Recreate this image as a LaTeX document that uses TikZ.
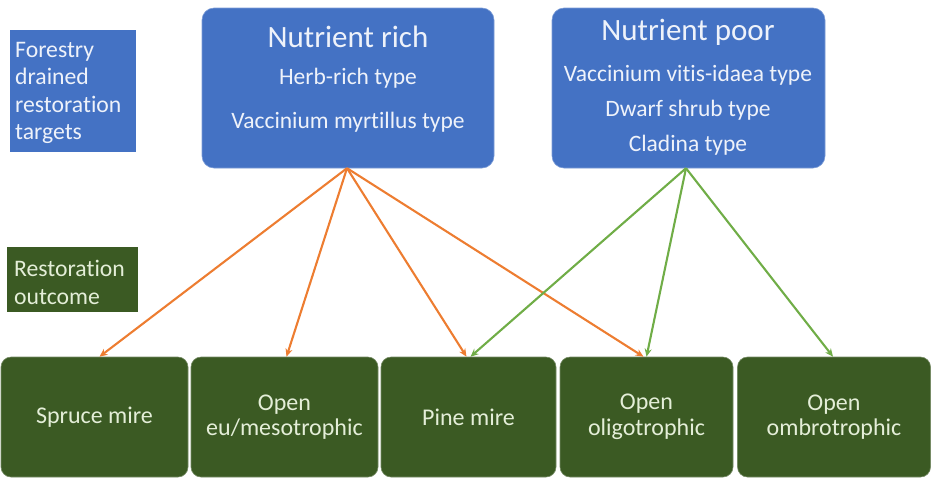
\documentclass[tikz,border=0pt]{standalone}
\usepackage{fontspec}
\setmainfont[Ligatures=NoCommon]{Carlito}
\usetikzlibrary{arrows.meta,calc}
\definecolor{boxblue}{HTML}{4472C4}
\definecolor{boxgreen}{HTML}{3B5A23}
\definecolor{arrorange}{HTML}{ED7D31}
\definecolor{arrgreen}{HTML}{70AD47}
\definecolor{bluetext}{HTML}{EEF2FA}
\definecolor{greentext}{HTML}{E4EED8}
\tikzset{
  topbox/.style={fill=boxblue, draw=boxblue!70!white, line width=0.6pt, rounded corners=12pt, text=bluetext, inner sep=0pt},
  botbox/.style={fill=boxgreen, draw=boxgreen!70!white, line width=0.6pt, rounded corners=10pt, text=greentext, inner sep=0pt, font=\fontsize{24}{25.5}\selectfont, align=center},
  labelbox/.style={inner sep=0pt},
  titletext/.style={text=bluetext, font=\fontsize{31}{34}\selectfont, inner sep=0pt},
  bodytext/.style={text=bluetext, font=\fontsize{23.5}{26}\selectfont, inner sep=0pt},
  richarrow/.style={draw=arrorange, line width=2.1pt, -{Stealth[length=8pt,width=7pt]}},
  poorarrow/.style={draw=arrgreen, line width=2.1pt, -{Stealth[length=8pt,width=7pt]}},
}
\begin{document}
\begin{tikzpicture}[x=1pt,y=-1pt]
\useasboundingbox (0,0) rectangle (933,480);
% legend boxes
\fill[boxblue] (10,30) rectangle (136,152);
\node[labelbox, anchor=north west, text=bluetext, align=left, font=\fontsize{23.7}{27.5}\selectfont] (lblA) at (15,42) {Forestry\\drained\\restoration\\targets};
\fill[boxgreen] (7,247) rectangle (138,312);
\node[labelbox, anchor=north west, text=greentext, align=left, font=\fontsize{23.7}{28}\selectfont] (lblB) at (14,260) {Restoration\\outcome};
% top boxes
\path[topbox] (202,8) rectangle (494,168);
\node[inner sep=0pt] (rich) at (348,88) [minimum width=292pt, minimum height=160pt] {};
\node[titletext] (richT) at (348,37) {Nutrient rich};
\node[bodytext] (richA) at (348,78) {Herb-rich type};
\node[bodytext] (richB) at (348,122) {Vaccinium myrtillus type};
\path[topbox] (552,8) rectangle (825,168);
\node[inner sep=0pt] (poor) at (688,88) [minimum width=273pt, minimum height=160pt] {};
\node[titletext] (poorT) at (688,32) {Nutrient poor};
\node[bodytext] (poorA) at (688,75) {Vaccinium vitis-idaea type};
\node[bodytext] (poorB) at (688,110) {Dwarf shrub type};
\node[bodytext] (poorC) at (688,145) {Cladina type};
% bottom boxes
\node[botbox, minimum width=187pt, minimum height=120pt] (b1) at (94.5,417) {Spruce mire};
\node[botbox, minimum width=187pt, minimum height=120pt] (b2) at (284.5,417) {Open\\eu/mesotrophic};
\node[botbox, minimum width=175pt, minimum height=120pt] (b3) at (468.5,417) {Pine mire};
\node[botbox, minimum width=173pt, minimum height=120pt] (b4) at (646.5,417) {Open\\oligotrophic};
\node[botbox, minimum width=193pt, minimum height=120pt] (b5) at (834,417) {Open\\ombrotrophic};
% arrows
\coordinate (rs) at ($(rich.south)+(-1,0)$);
\coordinate (ps) at ($(poor.south)+(-2,0)$);
\draw[richarrow] (rs) -- ($(b1.north)+(5,0)$);
\draw[richarrow] (rs) -- ($(b2.north)+(2,0)$);
\draw[richarrow] (rs) -- ($(b3.north)+(-2,0)$);
\draw[richarrow] (rs) -- ($(b4.north)+(-3,0)$);
\draw[poorarrow] (ps) -- ($(b3.north)+(2,0)$);
\draw[poorarrow] (ps) -- ($(b4.north)+(0,0)$);
\draw[poorarrow] (ps) -- ($(b5.north)+(-1,0)$);
\end{tikzpicture}
\end{document}
